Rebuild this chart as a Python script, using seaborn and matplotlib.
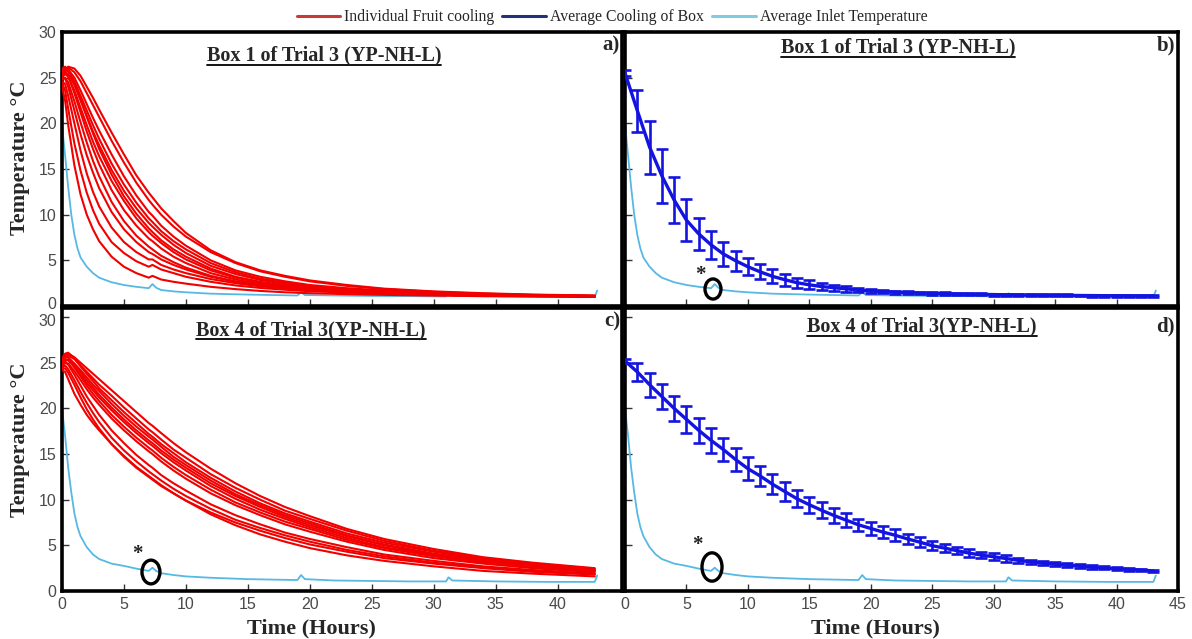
import matplotlib
matplotlib.use("Agg")
import matplotlib.pyplot as plt
from matplotlib.lines import Line2D
from matplotlib.patches import Ellipse
from matplotlib.transforms import ScaledTranslation
import pandas as pd
import seaborn as sns

# ---------------------------------------------------------------- data
fruit_hours = [0, 0.25, 0.5, 1, 1.5, 2, 2.5, 3, 4, 5, 6, 7, 7.3, 8, 9, 10,
               12, 14, 16, 18, 20, 23, 26, 30, 34, 38, 43]

inlet_hours = [0, 0.1, 0.25, 0.5, 0.75, 1, 1.25, 1.5, 2, 2.5,
               3, 4, 5, 6, 7, 7.3, 7.6, 8, 9, 10,
               12, 15, 19, 19.3, 19.6, 22, 25, 28, 31, 31.2,
               31.5, 35, 39, 43, 43.2]

avg_hours = list(range(0, 44))

# Box 1 – individual fruit probes (deg C)
box1_fruit = [
    [25.3, 25.9, 26.2, 26.0, 25.2, 24.0, 22.8, 21.5, 19.0, 16.6, 14.3, 12.4, 11.9, 10.7, 9.3, 8.0, 6.1, 4.8, 3.9, 3.3, 2.8, 2.3, 1.9, 1.6, 1.4, 1.25, 1.15],
    [25.6, 26.0, 26.1, 25.6, 24.6, 23.3, 22.0, 20.7, 18.1, 15.7, 13.5, 11.6, 11.1, 10.0, 8.7, 7.6, 5.9, 4.7, 3.8, 3.2, 2.7, 2.2, 1.85, 1.55, 1.35, 1.22, 1.12],
    [25.8, 26.1, 25.9, 25.0, 23.6, 22.1, 20.6, 19.2, 16.6, 14.2, 12.1, 10.3, 9.9, 8.8, 7.6, 6.6, 5.0, 3.9, 3.2, 2.7, 2.3, 1.95, 1.7, 1.45, 1.3, 1.2, 1.1],
    [25.5, 25.8, 25.7, 24.6, 23.0, 21.4, 19.8, 18.3, 15.6, 13.3, 11.3, 9.6, 9.2, 8.2, 7.1, 6.2, 4.7, 3.7, 3.0, 2.55, 2.2, 1.85, 1.6, 1.4, 1.28, 1.18, 1.1],
    [25.2, 25.6, 25.4, 24.2, 22.5, 20.8, 19.1, 17.6, 14.9, 12.6, 10.7, 9.1, 8.7, 7.8, 6.7, 5.8, 4.4, 3.5, 2.85, 2.4, 2.1, 1.8, 1.55, 1.38, 1.25, 1.16, 1.08],
    [26.0, 26.2, 25.8, 24.4, 22.6, 20.7, 18.9, 17.2, 14.4, 12.0, 10.1, 8.5, 8.1, 7.2, 6.2, 5.4, 4.1, 3.2, 2.65, 2.25, 2.0, 1.72, 1.5, 1.33, 1.22, 1.14, 1.07],
    [25.0, 25.4, 25.1, 23.6, 21.7, 19.8, 18.0, 16.4, 13.7, 11.5, 9.6, 8.1, 7.7, 6.9, 5.9, 5.1, 3.9, 3.1, 2.55, 2.2, 1.95, 1.7, 1.5, 1.32, 1.2, 1.13, 1.06],
    [25.4, 25.7, 25.2, 23.3, 21.2, 19.1, 17.2, 15.5, 12.7, 10.5, 8.8, 7.4, 7.1, 6.3, 5.4, 4.7, 3.6, 2.9, 2.4, 2.1, 1.85, 1.62, 1.45, 1.3, 1.2, 1.12, 1.05],
    [24.8, 25.0, 24.5, 22.4, 20.1, 17.9, 15.9, 14.2, 11.4, 9.3, 7.7, 6.5, 6.2, 5.5, 4.8, 4.2, 3.3, 2.7, 2.25, 2.0, 1.8, 1.58, 1.42, 1.28, 1.18, 1.1, 1.04],
    [25.0, 24.9, 24.0, 21.4, 18.8, 16.5, 14.6, 12.9, 10.3, 8.4, 7.0, 5.9, 5.7, 5.1, 4.5, 4.0, 3.2, 2.65, 2.3, 2.05, 1.85, 1.62, 1.45, 1.3, 1.2, 1.12, 1.05],
    [24.6, 24.3, 23.0, 20.0, 17.0, 14.5, 12.5, 10.9, 8.6, 7.0, 5.9, 5.1, 5.1, 4.5, 4.0, 3.6, 2.95, 2.5, 2.15, 1.92, 1.75, 1.55, 1.4, 1.26, 1.17, 1.1, 1.04],
    [24.4, 23.6, 21.6, 17.8, 14.8, 12.4, 10.5, 9.0, 7.0, 5.8, 4.9, 4.3, 4.5, 4.0, 3.6, 3.2, 2.65, 2.25, 1.98, 1.78, 1.62, 1.46, 1.33, 1.21, 1.13, 1.07, 1.02],
    [24.0, 22.5, 19.8, 15.4, 12.2, 10.0, 8.4, 7.1, 5.4, 4.3, 3.6, 3.1, 3.3, 2.9, 2.65, 2.45, 2.1, 1.85, 1.65, 1.5, 1.4, 1.3, 1.22, 1.14, 1.08, 1.04, 1.0],
]

# Box 4 – individual fruit probes (deg C)
box4_fruit = [
    [25.2, 25.8, 26.0, 25.6, 25.0, 24.4, 23.8, 23.2, 22.0, 20.8, 19.6, 18.4, 18.1, 17.3, 16.2, 15.2, 13.4, 11.8, 10.4, 9.2, 8.2, 6.8, 5.7, 4.6, 3.7, 3.1, 2.5],
    [25.0, 25.6, 25.8, 25.4, 24.7, 24.0, 23.3, 22.6, 21.4, 20.1, 18.9, 17.7, 17.4, 16.6, 15.5, 14.6, 12.8, 11.3, 10.0, 8.8, 7.9, 6.6, 5.5, 4.4, 3.6, 3.0, 2.45],
    [25.5, 26.0, 26.1, 25.5, 24.6, 23.8, 23.0, 22.2, 20.9, 19.6, 18.4, 17.2, 16.9, 16.1, 15.1, 14.1, 12.4, 10.9, 9.6, 8.5, 7.6, 6.3, 5.3, 4.3, 3.5, 2.9, 2.35],
    [24.8, 25.3, 25.4, 24.9, 24.2, 23.4, 22.6, 21.9, 20.5, 19.2, 18.0, 16.9, 16.6, 15.8, 14.7, 13.8, 12.1, 10.6, 9.4, 8.3, 7.4, 6.1, 5.1, 4.1, 3.4, 2.8, 2.3],
    [25.3, 25.7, 25.6, 24.9, 24.0, 23.1, 22.3, 21.5, 20.1, 18.8, 17.6, 16.5, 16.2, 15.4, 14.4, 13.5, 11.8, 10.4, 9.2, 8.1, 7.2, 6.0, 5.0, 4.0, 3.3, 2.75, 2.25],
    [24.6, 25.2, 25.3, 24.6, 23.7, 22.8, 22.0, 21.2, 19.8, 18.5, 17.3, 16.2, 15.9, 15.1, 14.1, 13.2, 11.5, 10.1, 8.9, 7.9, 7.0, 5.8, 4.8, 3.9, 3.2, 2.7, 2.2],
    [25.0, 25.4, 25.3, 24.5, 23.5, 22.5, 21.6, 20.8, 19.3, 18.0, 16.8, 15.7, 15.4, 14.6, 13.6, 12.7, 11.1, 9.7, 8.6, 7.6, 6.8, 5.6, 4.7, 3.8, 3.1, 2.6, 2.15],
    [24.7, 25.0, 24.9, 24.1, 23.1, 22.1, 21.2, 20.4, 18.9, 17.6, 16.4, 15.3, 15.0, 14.2, 13.2, 12.3, 10.7, 9.4, 8.3, 7.3, 6.5, 5.4, 4.5, 3.6, 3.0, 2.5, 2.05],
    [24.9, 25.1, 24.8, 23.7, 22.5, 21.3, 20.3, 19.3, 17.6, 16.2, 14.9, 13.8, 13.5, 12.7, 11.8, 11.0, 9.5, 8.3, 7.3, 6.4, 5.7, 4.8, 4.0, 3.3, 2.7, 2.3, 1.9],
    [24.5, 24.7, 24.3, 23.1, 21.8, 20.6, 19.5, 18.5, 16.8, 15.4, 14.2, 13.1, 12.8, 12.1, 11.2, 10.4, 9.0, 7.8, 6.9, 6.1, 5.4, 4.5, 3.8, 3.1, 2.6, 2.2, 1.85],
    [24.3, 24.4, 23.9, 22.6, 21.2, 19.9, 18.8, 17.8, 16.1, 14.7, 13.5, 12.5, 12.2, 11.5, 10.7, 9.9, 8.6, 7.5, 6.6, 5.8, 5.1, 4.3, 3.6, 3.0, 2.5, 2.1, 1.8],
    [24.2, 24.0, 23.2, 21.6, 20.4, 19.3, 18.4, 17.6, 16.1, 14.8, 13.6, 12.6, 12.3, 11.6, 10.7, 9.9, 8.4, 7.2, 6.2, 5.4, 4.7, 3.9, 3.3, 2.7, 2.2, 1.9, 1.6],
]

# Average air inlet temperature (deg C)
box1_inlet = [20.4, 18.5, 16.5, 13.0, 10.0, 7.8, 6.3, 5.3, 4.3, 3.6,
              3.1, 2.6, 2.3, 2.1, 1.95, 2.4, 2.0, 1.75, 1.6, 1.5,
              1.35, 1.25, 1.15, 1.5, 1.2, 1.15, 1.1, 1.08, 1.05, 1.4,
              1.1, 1.05, 1.02, 1.0, 1.7]
box4_inlet = [20.1, 18.8, 17.0, 13.5, 10.8, 8.5, 7.0, 6.0, 4.8, 4.0,
              3.5, 3.0, 2.75, 2.45, 2.2, 2.55, 2.2, 1.95, 1.75, 1.6,
              1.45, 1.3, 1.2, 1.75, 1.3, 1.15, 1.1, 1.05, 1.05, 1.5,
              1.15, 1.05, 1.0, 1.0, 1.7]

# Hourly box average and standard deviation (deg C)
box1_avg = [25.5, 21.4, 17.4, 14.25, 11.6, 9.4, 7.9, 6.7, 5.7, 4.96,
            4.3, 3.74, 3.25, 2.88, 2.55, 2.32, 2.13, 2.0, 1.88, 1.75,
            1.65, 1.58, 1.52, 1.47, 1.42, 1.38, 1.35, 1.32, 1.29, 1.27,
            1.25, 1.23, 1.21, 1.2, 1.18, 1.17, 1.16, 1.15, 1.14, 1.13,
            1.12, 1.11, 1.1, 1.1]
box1_sd = [0.3, 2.3, 2.9, 2.95, 2.5, 2.27, 1.77, 1.55, 1.3, 1.1,
           0.92, 0.82, 0.77, 0.66, 0.55, 0.49, 0.38, 0.33, 0.3, 0.22,
           0.2, 0.18, 0.17, 0.16, 0.15, 0.14, 0.13, 0.13, 0.12, 0.12,
           0.11, 0.11, 0.11, 0.1, 0.1, 0.1, 0.1, 0.1, 0.1, 0.1,
           0.1, 0.1, 0.1, 0.1]
box4_avg = [25.2, 24.0, 22.6, 21.3, 20.0, 18.8, 17.6, 16.5, 15.5, 14.4,
            13.4, 12.6, 11.7, 10.9, 10.1, 9.45, 8.84, 8.27, 7.76, 7.25,
            6.85, 6.45, 6.1, 5.7, 5.35, 4.96, 4.7, 4.42, 4.15, 3.93,
            3.75, 3.56, 3.36, 3.2, 3.07, 2.95, 2.82, 2.73, 2.62, 2.53,
            2.44, 2.36, 2.29, 2.2]
box4_sd = [0.2, 1.0, 1.3, 1.4, 1.4, 1.44, 1.38, 1.33, 1.3, 1.27,
           1.27, 1.1, 1.1, 1.0, 0.95, 0.9, 0.87, 0.82, 0.78, 0.64,
           0.67, 0.64, 0.64, 0.55, 0.55, 0.5, 0.45, 0.42, 0.4, 0.36,
           0.36, 0.33, 0.27, 0.25, 0.24, 0.22, 0.2, 0.18, 0.18, 0.16,
           0.15, 0.15, 0.15, 0.15]

legend_labels = ["Individual Fruit cooling", "Average Cooling of Box",
                 "Average Inlet Temperature"]
titles = ["Box 1 of Trial 3 (YP-NH-L)", "Box 1 of Trial 3 (YP-NH-L)",
          "Box 4 of Trial 3(YP-NH-L)", "Box 4 of Trial 3(YP-NH-L)"]
panel_tags = ["a)", "b)", "c)", "d)"]
y_label = "Temperature °C"
x_label = "Time (Hours)"

# ---------------------------------------------------------------- style
sns.set_theme(style="white")
plt.rcParams["font.family"] = ["Liberation Sans", "DejaVu Sans"]
SERIF = ["Liberation Serif", "DejaVu Serif"]

RED = "#f20000"
BLUE = "#1414e0"
CYAN = "#55b9e4"

W, H = 1192, 639
fig = plt.figure(figsize=(W / 100, H / 100), dpi=100)


def px_axes(x0, y_top, x1, y_bot):
    return fig.add_axes([x0 / W, 1 - y_bot / H, (x1 - x0) / W, (y_bot - y_top) / H])


ax_a = px_axes(62, 32, 622, 306)
ax_b = px_axes(625, 32, 1178, 306)
ax_c = px_axes(62, 308, 622, 591)
ax_d = px_axes(625, 308, 1178, 591)


def fruit_frame(curves):
    rows = []
    for probe, temps in enumerate(curves):
        for h, v in zip(fruit_hours, temps):
            rows.append((probe, h, v))
    return pd.DataFrame(rows, columns=["probe", "hour", "temp"])


def draw_fruit(ax, curves, inlet):
    sns.lineplot(x=inlet_hours, y=inlet, color=CYAN, lw=1.3, ax=ax, zorder=2)
    sns.lineplot(data=fruit_frame(curves), x="hour", y="temp", units="probe",
                 estimator=None, color=RED, lw=1.5, ax=ax, legend=False, zorder=3)


def draw_average(ax, avg, sd, inlet):
    sns.lineplot(x=inlet_hours, y=inlet, color=CYAN, lw=1.3, ax=ax, zorder=2)
    sns.lineplot(x=avg_hours, y=avg, color=BLUE, lw=2.4, ax=ax, zorder=4)
    ax.errorbar(avg_hours, avg, yerr=sd, fmt="none", ecolor=BLUE,
                elinewidth=1.9, capsize=4, capthick=1.9, zorder=4)


draw_fruit(ax_a, box1_fruit, box1_inlet)
draw_average(ax_b, box1_avg, box1_sd, box1_inlet)
draw_fruit(ax_c, box4_fruit, box4_inlet)
draw_average(ax_d, box4_avg, box4_sd, box4_inlet)


def style_axes(ax, xmax, ymax, xticks, show_x, show_y):
    ax.set_xlim(0, xmax)
    ax.set_ylim(0, ymax)
    ax.set_xticks(xticks)
    ax.set_yticks(range(0, 31, 5))
    ax.set_xlabel("")
    ax.set_ylabel("")
    ax.tick_params(direction="in", length=5, width=1, color="#333333",
                   labelcolor="#4a4a4a", labelsize=11.5, pad=4,
                   bottom=True, left=True,
                   labelbottom=show_x, labelleft=show_y)
    for s in ax.spines.values():
        s.set_visible(True)
        s.set_color("black")
        s.set_linewidth(2.6)


style_axes(ax_a, 45.2, 30, range(0, 41, 5), False, True)
style_axes(ax_b, 45, 30, range(0, 46, 5), False, False)
style_axes(ax_c, 45.2, 31, range(0, 41, 5), True, True)
style_axes(ax_d, 45, 31, range(0, 46, 5), True, False)

# keep the stacked "0" / "30" labels at the panel join apart
top_zero = ax_a.yaxis.get_major_ticks()[0].label1
top_zero.set_transform(top_zero.get_transform()
                       + ScaledTranslation(0, 2 / 72, fig.dpi_scale_trans))
low_thirty = ax_c.yaxis.get_major_ticks()[-1].label1
low_thirty.set_transform(low_thirty.get_transform()
                         + ScaledTranslation(0, -2 / 72, fig.dpi_scale_trans))

# ---------------------------------------------------------------- marks
for ax, (sx, sy), (ex, ey, ew, eh) in [
    (ax_b, (6.1, 3.4), (7.16, 1.86, 1.3, 2.2)),
    (ax_c, (6.05, 4.05), (7.18, 2.08, 1.45, 2.6)),
    (ax_d, (5.86, 5.0), (7.08, 2.63, 1.63, 3.1)),
]:
    ax.text(sx, sy, "*", fontsize=15, fontweight="bold", ha="center",
            va="center", family=SERIF, color="#222222", zorder=6)
    ax.add_patch(Ellipse((ex, ey), ew, eh, fill=False, ec="black", lw=2.4, zorder=6))

# ---------------------------------------------------------------- text
title_pos = [(324, 55), (898, 47), (311, 330), (922, 326)]
title_artists = []
for (x, y), txt in zip(title_pos, titles):
    title_artists.append(fig.text(x / W, 1 - y / H, txt, ha="center", va="center",
                                  fontsize=14.5, fontweight="bold", family=SERIF))

tag_pos = [(620, 45), (1175, 45), (620, 321), (1175, 326)]
for (x, y), txt in zip(tag_pos, panel_tags):
    fig.text(x / W, 1 - y / H, txt, ha="right", va="center", fontsize=15,
             fontweight="bold", family=SERIF)

for y in (158, 440):
    fig.text(20 / W, 1 - y / H, y_label, rotation=90, ha="center", va="center",
             fontsize=16, fontweight="bold", family=SERIF)
for x in (311, 875):
    fig.text(x / W, 1 - 628 / H, x_label, ha="center", va="center",
             fontsize=16, fontweight="bold", family=SERIF)

handles = [Line2D([], [], color="#c83a3a", lw=2.2),
           Line2D([], [], color="#27307c", lw=2.2),
           Line2D([], [], color="#80cbe0", lw=2.2)]
fig.legend(handles, legend_labels, loc="center", ncol=3, frameon=False,
           bbox_to_anchor=(612 / W, 1 - 17 / H), prop={"family": SERIF, "size": 11.3},
           handlelength=2.8, handletextpad=0.25, columnspacing=0.5)

# underline the panel titles
fig.canvas.draw()
renderer = fig.canvas.get_renderer()
inv = fig.transFigure.inverted()
for t in title_artists:
    bb = t.get_window_extent(renderer).transformed(inv)
    fig.add_artist(Line2D([bb.x0, bb.x1], [bb.y0 + 0.5 / H, bb.y0 + 0.5 / H],
                          transform=fig.transFigure, color="black", lw=1.3))

fig.savefig("out.png", dpi=100)
